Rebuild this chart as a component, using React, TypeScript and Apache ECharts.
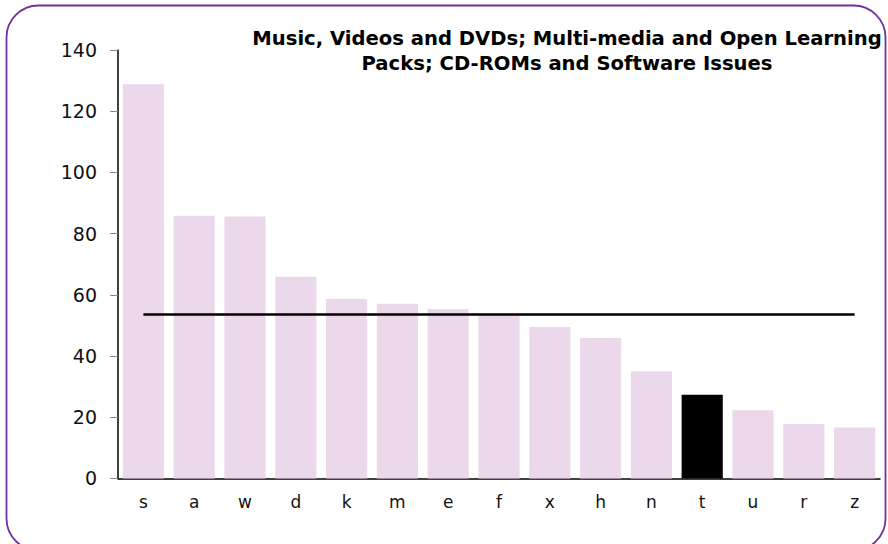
import React, { useEffect, useRef } from "react";
import * as echarts from "echarts";

const categories = ["s", "a", "w", "d", "k", "m", "e", "f", "x", "h", "n", "t", "u", "r", "z"];
const values = [128.8, 85.8, 85.6, 65.9, 58.6, 57.1, 55.4, 53.7, 49.5, 45.9, 35.0, 27.3, 22.3, 17.8, 16.6];
const highlighted = "t";
const average = 53.6;
const titleText = "Music, Videos and DVDs; Multi-media and Open Learning\nPacks; CD-ROMs and Software Issues";

export default function App() {
  const ref = useRef<HTMLDivElement>(null);
  useEffect(() => {
    if (!ref.current) return;
    const chart = echarts.init(ref.current, undefined, { renderer: "svg" });
    const font = "'DejaVu Sans', Verdana, sans-serif";
    chart.setOption({
      animation: false,
      backgroundColor: "#ffffff",
      title: {
        text: titleText,
        left: 562,
        top: 21,
        textAlign: "center",
        textStyle: {
          fontFamily: font,
          fontSize: 19.6,
          fontWeight: "bold",
          color: "#000000",
          lineHeight: 25,
        },
      },
      graphic: [
        {
          type: "rect",
          shape: { x: 6.5, y: 5.5, width: 879, height: 545, r: 32 },
          style: { fill: "none", stroke: "#7030a0", lineWidth: 1.8 },
          silent: true,
          z: 100,
        },
      ],
      grid: { left: 118, right: 8, top: 50, bottom: 65.6, containLabel: false },
      xAxis: {
        type: "category",
        data: categories,
        axisLine: { lineStyle: { color: "#000000", width: 1.5 } },
        axisTick: { show: false },
        axisLabel: { fontFamily: font, fontSize: 17, color: "#111111", margin: 15 },
      },
      yAxis: {
        type: "value",
        min: 0,
        max: 140,
        interval: 20,
        splitLine: { show: false },
        axisLine: { show: true, lineStyle: { color: "#000000", width: 1.5 } },
        axisTick: { show: true, length: 8, lineStyle: { color: "#888888", width: 1 } },
        axisLabel: { fontFamily: font, fontSize: 19, color: "#111111", margin: 21 },
      },
      series: [
        {
          type: "bar",
          data: values.map((v, i) => ({
            value: v,
            itemStyle: { color: categories[i] === highlighted ? "#000000" : "#ebd9eb" },
          })),
          barCategoryGap: "19%",
          markLine: {
            silent: true,
            symbol: "none",
            label: { show: false },
            lineStyle: { color: "#000000", width: 2.5, type: "solid" },
            data: [
              [
                { coord: [categories[0], average] },
                { coord: [categories[categories.length - 1], average] },
              ],
            ],
          },
        },
      ],
    });
    return () => chart.dispose();
  }, []);
  return (
    <div
      ref={ref}
      style={{ position: "fixed", left: 0, top: 0, width: 888, height: 544 }}
    />
  );
}
